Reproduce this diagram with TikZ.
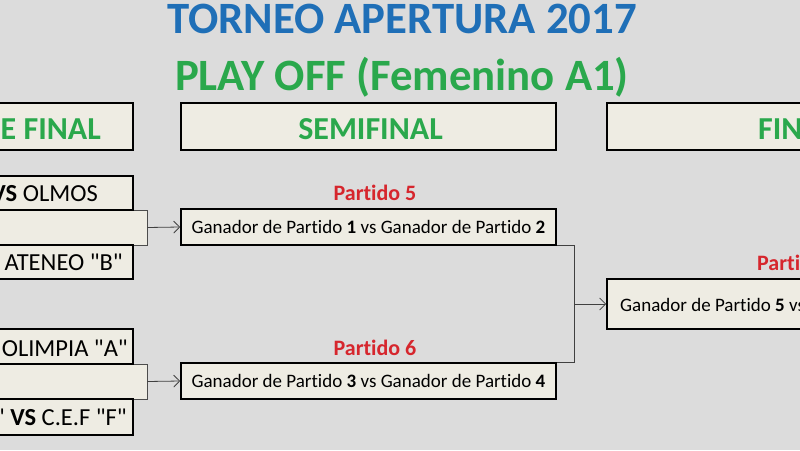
\documentclass[tikz,border=0pt]{standalone}
\usepackage{fontspec}
\setmainfont{Carlito}[Ligatures={TeXOff,CommonOff}]
\usetikzlibrary{arrows.meta}
\definecolor{fondo}{RGB}{220,220,220}
\definecolor{crema}{RGB}{238,236,227}
\definecolor{azul}{RGB}{31,111,183}
\definecolor{verde}{RGB}{42,168,76}
\definecolor{rojo}{RGB}{214,38,45}

\begin{document}
\begin{tikzpicture}[x=1pt,y=-1pt,
	>={Straight Barb[length=6pt,width=12pt]},
	caja/.style={draw=black, line width=1.6pt, fill=crema, inner sep=0pt},
	union/.style={draw=black!70, line width=0.8pt, fill=crema, inner sep=0pt},
	linea/.style={draw=black!75, line width=0.8pt},
	titulo/.style={font=\fontsize{44.8}{52}\selectfont\bfseries, inner sep=0pt},
	encab/.style={font=\fontsize{32}{38}\selectfont\bfseries, text=verde, inner sep=0pt},
	equipo/.style={font=\fontsize{24.5}{28}\selectfont, inner sep=0pt},
	texto/.style={font=\fontsize{19}{22}\selectfont, inner sep=0pt},
	partido/.style={font=\fontsize{22}{26}\selectfont\bfseries, text=rojo, inner sep=0pt}]

		\useasboundingbox (0,0) rectangle (800,450);
		\clip (0,0) rectangle (800,450);
		\fill[fondo] (0,0) rectangle (800,450);

		% titulos
		\node[titulo, text=azul, anchor=base] (torneo) at (402,33.5) {TORNEO APERTURA 2017};
		\node[titulo, text=verde, anchor=base] (playoff) at (402,90.5) {PLAY OFF (Femenino A1)};

		% encabezados
		\node[caja, minimum width=193, minimum height=47] (hcuartos) at (36.5,126.5) {};
		\node[encab, anchor=base east] (tcuartos) at (101,139) {E FINAL};
		\node[caja, minimum width=375, minimum height=47] (hsemi) at (368.5,126.5) {};
		\node[encab, anchor=base] (tsemi) at (370.5,139) {SEMIFINAL};
		\node[caja, minimum width=375, minimum height=47] (hfinal) at (794.5,126.5) {};
		\node[encab, anchor=base west] (tfinal) at (758,139) {FIN};

		% cuartos
		\node[union, minimum width=207, minimum height=35] (q12) at (43.5,227.5) {};
		\node[caja, minimum width=193, minimum height=34] (q1) at (36.5,193) {};
		\node[caja, minimum width=193, minimum height=34] (q2) at (36.5,262) {};
		\node[union, minimum width=207, minimum height=35] (q34) at (43.5,381.5) {};
		\node[caja, minimum width=193, minimum height=35] (q3) at (36.5,346.5) {};
		\node[caja, minimum width=193, minimum height=36] (q4) at (36.5,417) {};

		\node[equipo, anchor=base east] (e1) at (98,201) {\textbf{VS} OLMOS};
		\node[equipo, anchor=base east] (e2) at (123,270) {ATENEO "B"};
		\node[equipo, anchor=base east] (e3) at (128,356) {OLIMPIA "A"};
		\node[equipo, anchor=base east] (e4) at (127,425) {" \textbf{VS} C.E.F "F"};

		% semifinal
		\node[caja, texto, minimum width=375, minimum height=36] (s5) at (368.5,227) {Ganador de Partido \textbf{1} vs Ganador de Partido \textbf{2}};
		\node[caja, texto, minimum width=375, minimum height=36] (s6) at (368.5,381) {Ganador de Partido \textbf{3} vs Ganador de Partido \textbf{4}};
		\node[partido, anchor=base] (p5) at (375,200) {Partido 5};
		\node[partido, anchor=base] (p6) at (375,355) {Partido 6};

		% final
		\node[caja, minimum width=375, minimum height=50] (f7) at (794.5,304) {};
		\node[texto, anchor=west] (tf7) at (620,305) {Ganador de Partido \textbf{5} vs};
		\node[partido, anchor=base west] (p7) at (757,270) {Parti};

		% conectores
		\draw[linea, ->] (q12.east) -- (s5.west);
		\draw[linea, ->] (q34.east) -- (s6.west);
		\draw[linea] (s5.south east) -- ++(18,0) coordinate (codo) |- (s6.north east);
		\coordinate (cruce) at (codo |- f7.west);
		\draw[linea, ->] (cruce) -- (f7.west);

	\end{tikzpicture}
\end{document}
